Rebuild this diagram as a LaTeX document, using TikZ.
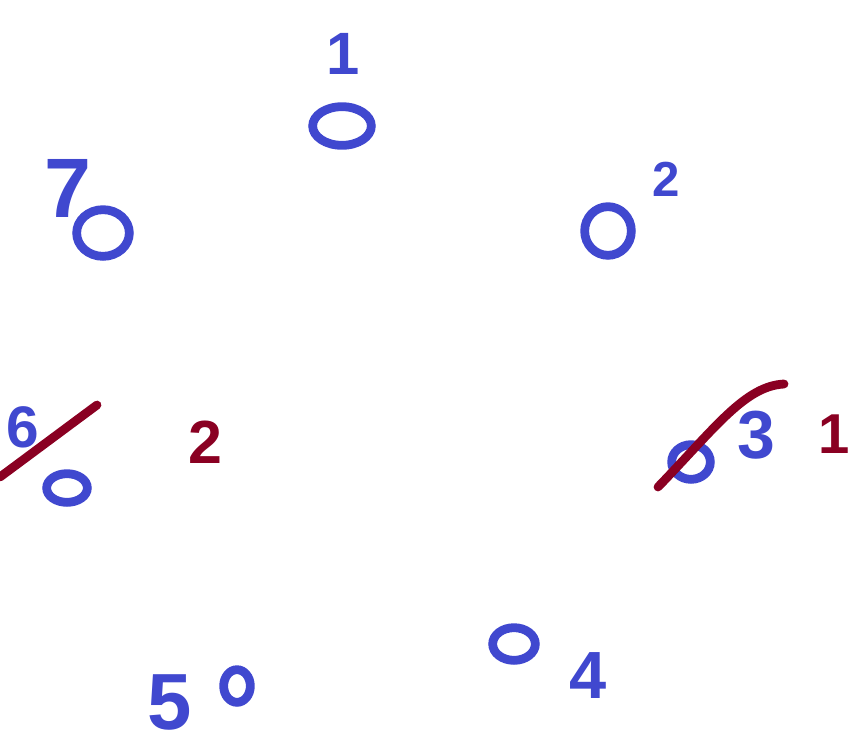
\documentclass[tikz,border=0pt]{standalone}
\usepackage{fontspec}
\setmainfont{Liberation Sans}
\usetikzlibrary{shapes.geometric}
\usepackage{xcolor}
\definecolor{penblue}{HTML}{4048CF}
\definecolor{penred}{HTML}{8A0022}
\tikzset{
  ring/.style={draw=penblue, ellipse, line width=7.5pt, inner sep=0pt},
  digit/.style={text=penblue, inner sep=0pt, font=\bfseries},
  reddigit/.style={digit, text=penred},
  strike/.style={draw=penred, line width=7.5pt, line cap=round}
}
\newcommand{\fs}[1]{\fontsize{#1}{#1}\selectfont}

\begin{document}
\begin{tikzpicture}[x=0.03cm, y=-0.03cm]
  \useasboundingbox (0,0) rectangle (852,747);
  % seats round the table
  \node[ring, minimum width=1.76cm, minimum height=1.16cm] (c1) at (342,126) {};
  \node[ring, minimum width=1.40cm, minimum height=1.46cm] (c2) at (608,231) {};
  \node[ring, minimum width=1.16cm, minimum height=1.04cm] (c3) at (691,462) {};
  \node[ring, minimum width=1.28cm, minimum height=0.98cm] (c4) at (514,644) {};
  \node[ring, minimum width=0.80cm, minimum height=0.98cm] (c5) at (237,686) {};
  \node[ring, minimum width=1.22cm, minimum height=0.86cm] (c6) at (67,488) {};
  \node[ring, minimum width=1.58cm, minimum height=1.40cm] (c7) at (103,233) {};
  % numbers
  \node[digit, font=\bfseries\fs{51}] (n1) at (343,54) {1};
  \node[digit, font=\bfseries\fs{42}] (n2) at (666,179) {2};
  \node[digit, font=\bfseries\fs{58}] (n3) at (756,435) {3};
  \node[digit, font=\bfseries\fs{57}] (n4) at (588,676) {4};
  \node[digit, font=\bfseries\fs{68}] (n5) at (170,702) {5};
  \node[digit, font=\bfseries\fs{50}] (n6) at (23,427) {6};
  \node[digit, font=\bfseries\fs{72}] (n7) at (68,188) {7};
  % crossed out
  \coordinate (s6a) at (0,477);
  \coordinate (s6b) at (97,405);
  \draw[strike] (s6a) -- (s6b);
  \coordinate (s3a) at (658,487);
  \coordinate (s3b) at (784,384);
  \draw[strike] (s3a) .. controls (715,428) and (745,386) .. (s3b);
  \node[reddigit, font=\bfseries\fs{52}] (r2) at (205,442) {2};
  \node[reddigit, font=\bfseries\fs{48}] (r1) at (834,434) {1};
\end{tikzpicture}
\end{document}
